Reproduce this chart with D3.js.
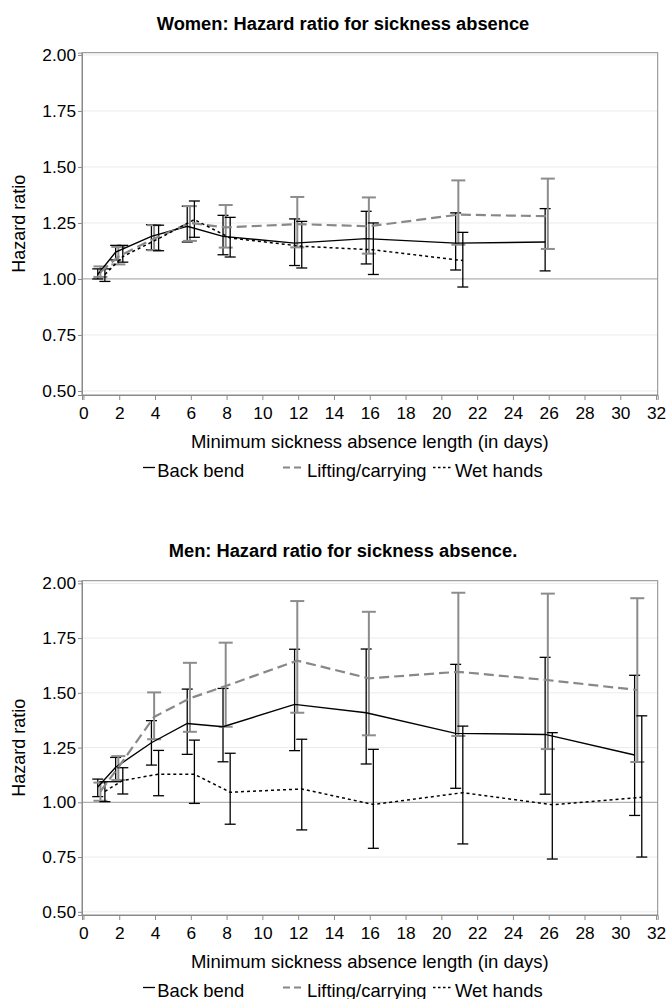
<!DOCTYPE html>
<html>
<head>
<meta charset="utf-8">
<script src="https://cdn.jsdelivr.net/npm/d3@7"></script>
<style>
  html, body { margin: 0; padding: 0; background: #fff; }
  svg { display: block; }
  text { font-family: "Liberation Sans", Arial, sans-serif; fill: #000; }
</style>
</head>
<body>
<svg id="chart" width="669" height="999"></svg>
<script>
// ---------- DATA ----------
const days = [1, 2, 4, 6, 8, 12, 16, 21, 26, 31];
const seriesNames = ["Back bend", "Lifting/carrying", "Wet hands"];
const xTicks = [0, 2, 4, 6, 8, 10, 12, 14, 16, 18, 20, 22, 24, 26, 28, 30, 32];
const yTicks = [0.50, 0.75, 1.00, 1.25, 1.50, 1.75, 2.00];

// Women
const womenBackBend    = [1.02, 1.12, 1.19, 1.235, 1.19, 1.16, 1.18, 1.16, 1.165];
const womenBackBendLo  = [1.00, 1.085, 1.13, 1.165, 1.108, 1.06, 1.067, 1.04, 1.036];
const womenBackBendHi  = [1.045, 1.15, 1.242, 1.325, 1.284, 1.268, 1.302, 1.295, 1.314];
const womenLifting     = [1.03, 1.10, 1.18, 1.25, 1.23, 1.245, 1.235, 1.287, 1.28];
const womenLiftingLo   = [1.009, 1.065, 1.128, 1.17, 1.14, 1.141, 1.113, 1.153, 1.134];
const womenLiftingHi   = [1.056, 1.143, 1.24, 1.325, 1.33, 1.366, 1.364, 1.44, 1.448];
const womenWetHands    = [1.02, 1.10, 1.18, 1.265, 1.183, 1.146, 1.13, 1.082];
const womenWetHandsLo  = [0.989, 1.075, 1.126, 1.186, 1.098, 1.049, 1.02, 0.964];
const womenWetHandsHi  = [1.045, 1.15, 1.24, 1.348, 1.275, 1.257, 1.25, 1.208];

// Men
const menBackBend    = [1.07, 1.16, 1.272, 1.36, 1.345, 1.447, 1.409, 1.315, 1.31, 1.216];
const menBackBendLo  = [1.026, 1.094, 1.17, 1.219, 1.185, 1.236, 1.175, 1.064, 1.037, 0.94];
const menBackBendHi  = [1.106, 1.205, 1.373, 1.517, 1.52, 1.699, 1.70, 1.63, 1.662, 1.58];
const menLifting     = [1.05, 1.16, 1.39, 1.475, 1.531, 1.647, 1.566, 1.596, 1.558, 1.513];
const menLiftingLo   = [1.007, 1.102, 1.288, 1.322, 1.345, 1.409, 1.306, 1.303, 1.243, 1.184];
const menLiftingHi   = [1.09, 1.211, 1.502, 1.637, 1.729, 1.919, 1.87, 1.957, 1.953, 1.932];
const menWetHands    = [1.05, 1.10, 1.128, 1.128, 1.046, 1.061, 0.99, 1.044, 0.989, 1.023];
const menWetHandsLo  = [1.003, 1.038, 1.03, 0.995, 0.90, 0.874, 0.79, 0.81, 0.741, 0.75];
const menWetHandsHi  = [1.094, 1.158, 1.237, 1.284, 1.224, 1.288, 1.242, 1.348, 1.318, 1.395];

// ---------- STYLE ----------
const styles = [
  { color: "#000000", width: 1.4, dash: null,  barColor: "#000000", barWidth: 1.3, cap: 11, dx: -0.2 },
  { color: "#888888", width: 2.2, dash: "10,5", barColor: "#8c8c8c", barWidth: 2.0, cap: 14, dx: -0.05 },
  { color: "#000000", width: 1.5, dash: "3,3", barColor: "#000000", barWidth: 1.3, cap: 11, dx: 0.2 }
];

function build(est, lo, hi) {
  return est.map((v, i) => ({ x: days[i], y: v, lo: lo[i], hi: hi[i] }));
}

const panels = [
  {
    title: "Women: Hazard ratio for sickness absence",
    titleY: 30,
    top: 52.7, bottom: 395, yDomain: [0.482, 2.01],
    series: [
      build(womenBackBend, womenBackBendLo, womenBackBendHi),
      build(womenLifting, womenLiftingLo, womenLiftingHi),
      build(womenWetHands, womenWetHandsLo, womenWetHandsHi)
    ]
  },
  {
    title: "Men: Hazard ratio for sickness absence.",
    titleY: 557,
    top: 580.7, bottom: 915, yDomain: [0.4854, 2.012],
    series: [
      build(menBackBend, menBackBendLo, menBackBendHi),
      build(menLifting, menLiftingLo, menLiftingHi),
      build(menWetHands, menWetHandsLo, menWetHandsHi)
    ]
  }
];

const svg = d3.select("#chart");
const left = 82, right = 657.7;
const x = d3.scaleLinear().domain([-0.08, 32.09]).range([left, right]);

panels.forEach(p => {
  const y = d3.scaleLinear().domain(p.yDomain).range([p.bottom, p.top]);
  const g = svg.append("g");

  // title
  g.append("text")
    .attr("x", 343).attr("y", p.titleY)
    .attr("text-anchor", "middle")
    .style("font-weight", "bold")
    .style("font-size", "18.3px")
    .text(p.title);

  // gridlines
  g.append("g").selectAll("line").data(yTicks).join("line")
    .attr("x1", left).attr("x2", right)
    .attr("y1", d => y(d)).attr("y2", d => y(d))
    .attr("stroke", d => d === 1 ? "#b0b0b0" : "#ebebeb")
    .attr("stroke-width", d => d === 1 ? 1.3 : 1);

  // frame
  g.append("rect")
    .attr("x", left).attr("y", p.top)
    .attr("width", right - left).attr("height", p.bottom - p.top)
    .attr("fill", "none").attr("stroke", "#8a8a8a").attr("stroke-width", 1);

  // y axis
  const yAxis = d3.axisLeft(y).tickValues(yTicks).tickFormat(d3.format(".2f")).tickSize(4).tickPadding(2);
  const ya = g.append("g").attr("transform", `translate(${left},0)`).call(yAxis);
  ya.select(".domain").attr("stroke", "#8a8a8a");
  ya.selectAll(".tick line").attr("stroke", "#8a8a8a");
  ya.selectAll(".tick text").style("font-size", "17.3px").style("font-family", "'Liberation Sans', Arial, sans-serif").attr("fill", "#000");

  // x axis
  const xAxis = d3.axisBottom(x).tickValues(xTicks).tickFormat(d3.format("d")).tickSize(5).tickPadding(7);
  const xa = g.append("g").attr("transform", `translate(0,${p.bottom})`).call(xAxis);
  xa.select(".domain").attr("stroke", "#8a8a8a");
  xa.selectAll(".tick line").attr("stroke", "#8a8a8a");
  xa.selectAll(".tick text").style("font-size", "17.3px").style("font-family", "'Liberation Sans', Arial, sans-serif").attr("fill", "#000");

  // axis titles
  g.append("text")
    .attr("transform", `translate(25,${(p.top + p.bottom) / 2}) rotate(-90)`)
    .attr("text-anchor", "middle")
    .style("font-size", "18px")
    .text("Hazard ratio");
  g.append("text")
    .attr("x", (left + right) / 2).attr("y", p.bottom + 53)
    .attr("text-anchor", "middle")
    .style("font-size", "18.5px")
    .text("Minimum sickness absence length (in days)");

  // series: error bars then lines
  p.series.forEach((data, si) => {
    const s = styles[si];
    const px = d => x(d.x + s.dx);
    const eb = g.append("g");
    eb.selectAll("line.v").data(data).join("line").attr("class", "v")
      .attr("x1", px).attr("x2", px)
      .attr("y1", d => y(d.lo)).attr("y2", d => y(d.hi))
      .attr("stroke", s.barColor).attr("stroke-width", s.barWidth);
    ["lo", "hi"].forEach(k => {
      eb.selectAll("line.c" + k).data(data).join("line").attr("class", "c" + k)
        .attr("x1", d => px(d) - s.cap / 2).attr("x2", d => px(d) + s.cap / 2)
        .attr("y1", d => y(d[k])).attr("y2", d => y(d[k]))
        .attr("stroke", s.barColor).attr("stroke-width", s.barWidth);
    });
  });
  p.series.forEach((data, si) => {
    const s = styles[si];
    const line = d3.line().x(d => x(d.x + s.dx)).y(d => y(d.y));
    g.append("path").datum(data)
      .attr("d", line)
      .attr("fill", "none")
      .attr("stroke", s.color)
      .attr("stroke-width", s.width)
      .attr("stroke-dasharray", s.dash);
  });

  // legend
  const ly = p.bottom + 81.5;
  const legendItems = [
    { sx1: 143, sx2: 155, tx: 157.3 },
    { sx1: 283, sx2: 304, tx: 307 },
    { sx1: 433, sx2: 453, tx: 455 }
  ];
  const lg = g.append("g");
  legendItems.forEach((it, i) => {
    const s = styles[i];
    lg.append("line")
      .attr("x1", it.sx1).attr("x2", it.sx2)
      .attr("y1", ly - 9).attr("y2", ly - 9)
      .attr("stroke", s.color)
      .attr("stroke-width", i === 1 ? 2 : 1.3)
      .attr("stroke-dasharray", i === 1 ? "7,4" : (i === 2 ? "2.5,2.5" : null));
    lg.append("text")
      .attr("x", it.tx).attr("y", ly)
      .style("font-size", "18.4px")
      .text(seriesNames[i]);
  });
});
</script>
</body>
</html>
